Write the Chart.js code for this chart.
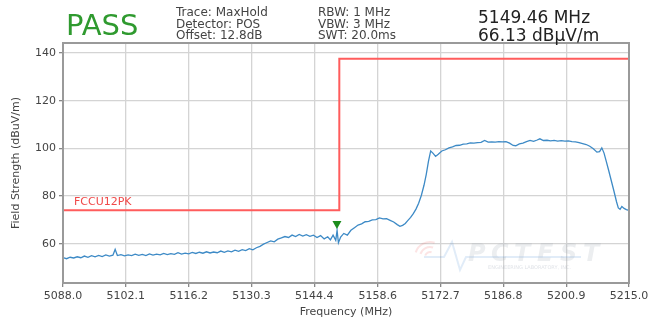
<!DOCTYPE html>
<html>
<head>
<meta charset="utf-8">
<script src="https://cdn.jsdelivr.net/npm/chart.js@4.4.1/dist/chart.umd.min.js"></script>
<style>
  html, body { margin: 0; padding: 0; background: #fff; }
  canvas { display: block; }
</style>
</head>
<body>
<canvas id="scan" width="663" height="321"></canvas>
<script>
// Measured trace, [frequency MHz, level dBuV/m]
const traceData = [
  [5088.0, 54.2], [5088.8, 53.7], [5089.6, 54.3], [5090.4, 54.0], [5091.2, 54.5], [5092.0, 54.1],
  [5092.8, 54.8], [5093.6, 54.3], [5094.4, 55.0], [5095.2, 54.5], [5096.0, 55.1], [5096.8, 54.6],
  [5097.6, 55.3], [5098.4, 54.8], [5099.2, 55.2], [5099.7, 57.6], [5100.2, 55.0], [5101.0, 55.4],
  [5101.8, 54.9], [5102.6, 55.3], [5103.4, 55.0], [5104.2, 55.6], [5105.0, 55.1], [5105.8, 55.5],
  [5106.6, 55.0], [5107.4, 55.7], [5108.2, 55.2], [5109.0, 55.6], [5109.8, 55.3], [5110.6, 55.9],
  [5111.4, 55.4], [5112.2, 55.8], [5113.0, 55.5], [5113.8, 56.2], [5114.6, 55.6], [5115.4, 56.0],
  [5116.2, 55.7], [5117.0, 56.3], [5117.8, 55.9], [5118.6, 56.4], [5119.4, 56.0], [5120.2, 56.6],
  [5121.0, 56.1], [5121.8, 56.5], [5122.6, 56.2], [5123.4, 56.9], [5124.2, 56.4], [5125.0, 57.0],
  [5125.8, 56.6], [5126.6, 57.3], [5127.4, 56.8], [5128.2, 57.5], [5129.0, 57.1], [5129.8, 57.9],
  [5130.6, 57.4], [5131.4, 58.3], [5132.2, 58.9], [5133.0, 59.8], [5133.8, 60.5], [5134.6, 61.2],
  [5135.4, 60.8], [5136.2, 61.9], [5137.0, 62.4], [5137.8, 63.0], [5138.6, 62.6], [5139.4, 63.6],
  [5140.2, 63.0], [5141.0, 63.9], [5141.8, 63.2], [5142.6, 63.8], [5143.4, 63.1], [5144.2, 63.6],
  [5145.0, 62.6], [5145.8, 63.4], [5146.6, 62.0], [5147.4, 62.9], [5148.0, 61.6], [5148.6, 63.6],
  [5149.2, 61.4], [5149.5, 65.6], [5149.8, 60.4], [5150.3, 62.8], [5151.0, 64.3], [5151.8, 63.6],
  [5152.6, 65.6], [5153.4, 66.7], [5154.2, 67.8], [5155.0, 68.3], [5155.8, 69.2], [5156.6, 69.4],
  [5157.4, 70.0], [5158.2, 70.1], [5159.0, 70.8], [5159.8, 70.4], [5160.6, 70.5], [5161.4, 69.8],
  [5162.2, 69.1], [5163.0, 68.0], [5163.6, 67.3], [5164.2, 67.7], [5164.8, 68.5], [5165.4, 69.8],
  [5166.0, 71.0], [5166.6, 72.6], [5167.2, 74.5], [5167.8, 77.0], [5168.4, 80.2], [5169.0, 84.5],
  [5169.5, 89.0], [5170.0, 94.5], [5170.5, 98.9], [5171.0, 98.0], [5171.6, 96.6], [5172.2, 97.5],
  [5173.0, 98.9], [5173.8, 99.4], [5174.6, 100.2], [5175.4, 100.6], [5176.2, 101.2], [5177.0, 101.3],
  [5177.8, 101.8], [5178.6, 101.9], [5179.4, 102.3], [5180.2, 102.2], [5181.0, 102.4], [5181.8, 102.5],
  [5182.6, 103.3], [5183.4, 102.6], [5184.2, 102.7], [5185.0, 102.6], [5185.8, 102.8], [5186.6, 102.7],
  [5187.4, 102.8], [5188.2, 102.2], [5189.0, 101.2], [5189.6, 101.1], [5190.4, 101.9], [5191.2, 102.2],
  [5192.0, 102.8], [5192.8, 103.3], [5193.6, 102.9], [5194.4, 103.5], [5195.0, 104.0], [5195.8, 103.3],
  [5196.6, 103.4], [5197.4, 103.1], [5198.2, 103.3], [5199.0, 103.0], [5199.8, 103.2], [5200.6, 103.0],
  [5201.4, 103.1], [5202.2, 102.8], [5203.0, 102.7], [5203.8, 102.4], [5204.6, 102.0], [5205.4, 101.6],
  [5206.2, 100.9], [5207.0, 99.8], [5207.8, 98.4], [5208.4, 98.6], [5208.9, 100.2], [5209.4, 98.0],
  [5209.9, 94.5], [5210.4, 91.0], [5211.0, 86.6], [5211.6, 82.2], [5212.2, 77.6], [5212.6, 75.0],
  [5213.0, 74.4], [5213.4, 75.6], [5213.9, 74.8], [5214.4, 74.3], [5215.0, 74.0]
];

// FCC limit line (steps up at the band edge)
const limitData = [[5088.0, 74.0], [5150.0, 74.0], [5150.0, 137.6], [5215.0, 137.6]];
const limitName = 'FCCU12PK';

// Marker reading
const markerFreq = 5149.46;
const markerLevel = 66.13;

const xTicks = [5088.0, 5102.1, 5116.2, 5130.3, 5144.4, 5158.6, 5172.7, 5186.8, 5200.9, 5215.0];
const yTicks = [60, 80, 100, 120, 140];

const infoLeft = ['Trace: MaxHold', 'Detector: POS', 'Offset: 12.8dB'];
const infoMid = ['RBW: 1 MHz', 'VBW: 3 MHz', 'SWT: 20.0ms'];

const FONT = "'DejaVu Sans', sans-serif";

const toPoints = arr => arr.map(p => ({ x: p[0], y: p[1] }));

// header text, limit label, marker, watermark and frame
const decorations = {
  id: 'decorations',
  beforeDatasetsDraw(chart) {
    const ctx = chart.ctx;
    const x0 = 426, y0 = 240;
    ctx.save();
    // faint lab logo behind the trace
    ctx.strokeStyle = 'rgba(235,90,90,0.16)';
    ctx.lineWidth = 2;
    for (let r = 5; r <= 15; r += 5) {
      ctx.beginPath();
      ctx.arc(x0 + 4, y0 + 17, r, Math.PI * 1.1, Math.PI * 1.6);
      ctx.stroke();
    }
    ctx.strokeStyle = 'rgba(90,150,215,0.18)';
    ctx.lineWidth = 2;
    ctx.beginPath();
    ctx.moveTo(x0 - 2, y0 + 17);
    ctx.lineTo(x0 + 18, y0 + 17);
    ctx.lineTo(x0 + 26, y0 + 2);
    ctx.lineTo(x0 + 34, y0 + 30);
    ctx.lineTo(x0 + 40, y0 + 17);
    ctx.lineTo(x0 + 155, y0 + 17);
    ctx.stroke();
    ctx.fillStyle = 'rgba(160,168,182,0.2)';
    ctx.font = "italic bold 24px " + FONT;
    ctx.textBaseline = 'alphabetic';
    ['P', 'C', 'T', 'E', 'S', 'T'].forEach((c, i) => ctx.fillText(c, x0 + 42 + i * 23, y0 + 21));
    ctx.font = "5px " + FONT;
    ctx.fillStyle = 'rgba(150,160,175,0.3)';
    ctx.fillText('ENGINEERING LABORATORY, INC.', x0 + 62, y0 + 29);
    ctx.restore();
  },
  afterDraw(chart) {
    const ctx = chart.ctx;
    const xs = chart.scales.x, ys = chart.scales.y;
    const area = chart.chartArea;
    ctx.save();

    // plot frame
    ctx.strokeStyle = '#9a9a9a';
    ctx.lineWidth = 2;
    ctx.strokeRect(area.left, area.top, area.right - area.left, area.bottom - area.top);

    // limit label
    ctx.fillStyle = '#f04848';
    ctx.font = "11px " + FONT;
    ctx.textBaseline = 'alphabetic';
    ctx.fillText(limitName, xs.getPixelForValue(limitData[0][0]) + 11, ys.getPixelForValue(limitData[0][1]) - 5);

    // marker: down triangle with its tip on the reading
    const mx = xs.getPixelForValue(markerFreq);
    const my = ys.getPixelForValue(markerLevel);
    ctx.fillStyle = '#1c8c1c';
    ctx.beginPath();
    ctx.moveTo(mx, my);
    ctx.lineTo(mx - 4.5, my - 8);
    ctx.lineTo(mx + 4.5, my - 8);
    ctx.closePath();
    ctx.fill();

    // header
    ctx.fillStyle = '#2f9a2f';
    ctx.font = "29px " + FONT;
    ctx.fillText('PASS', 66, 35);

    ctx.fillStyle = '#444';
    ctx.font = "12px " + FONT;
    infoLeft.forEach((t, i) => ctx.fillText(t, 176, 16 + i * 11.5));
    infoMid.forEach((t, i) => ctx.fillText(t, 318, 16 + i * 11.5));

    ctx.fillStyle = '#222';
    ctx.font = "17px " + FONT;
    ctx.fillText(markerFreq.toFixed(2) + ' MHz', 478, 23);
    ctx.fillText(markerLevel.toFixed(2) + ' dBµV/m', 478, 41);
    ctx.restore();
  }
};

const ctx = document.getElementById('scan').getContext('2d');
new Chart(ctx, {
  type: 'line',
  data: {
    datasets: [
      {
        label: 'MaxHold',
        data: toPoints(traceData),
        borderColor: '#3d8ac6',
        borderWidth: 1.3,
        pointRadius: 0,
        tension: 0
      },
      {
        label: limitName,
        data: toPoints(limitData),
        borderColor: '#ff5c5c',
        borderWidth: 2,
        pointRadius: 0,
        tension: 0
      }
    ]
  },
  options: {
    responsive: false,
    animation: false,
    devicePixelRatio: 1,
    layout: { padding: { left: 0, right: 34, top: 43, bottom: 0 } },
    plugins: {
      legend: { display: false },
      tooltip: { enabled: false }
    },
    scales: {
      x: {
        type: 'linear',
        min: 5088,
        max: 5215,
        afterBuildTicks: s => { s.ticks = xTicks.map(v => ({ value: v })); },
        afterFit: s => { s.height = 38; },
        ticks: {
          autoSkip: false,
          maxRotation: 0,
          padding: 3,
          color: '#444',
          font: { family: FONT, size: 11 },
          callback: v => v.toFixed(1)
        },
        grid: { color: '#d4d4d4', lineWidth: 1.3, tickLength: 4, tickColor: '#888' },
        border: { color: '#9a9a9a', width: 2 },
        title: {
          display: true,
          text: 'Frequency (MHz)',
          color: '#444',
          font: { family: FONT, size: 11 },
          padding: { top: 0, bottom: 2 }
        }
      },
      y: {
        min: 43.5,
        max: 144.2,
        afterBuildTicks: s => { s.ticks = yTicks.map(v => ({ value: v })); },
        afterFit: s => { s.width = 63; },
        ticks: {
          padding: 3,
          color: '#444',
          font: { family: FONT, size: 11 }
        },
        grid: { color: '#d4d4d4', lineWidth: 1.3, tickLength: 4, tickColor: '#888' },
        border: { color: '#9a9a9a', width: 2 },
        title: {
          display: true,
          text: 'Field Strength (dBuV/m)',
          color: '#444',
          font: { family: FONT, size: 11 },
          padding: { top: 10, bottom: 0 }
        }
      }
    }
  },
  plugins: [decorations]
});
</script>
</body>
</html>
